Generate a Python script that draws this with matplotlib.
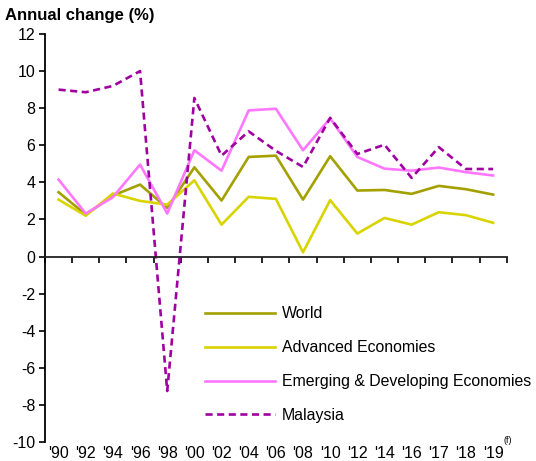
import matplotlib
matplotlib.use("Agg")
import matplotlib.pyplot as plt
import matplotlib.transforms as mtransforms

plt.rcParams['font.family'] = ['Liberation Sans', 'DejaVu Sans']

years = ["'90", "'92", "'94", "'96", "'98", "'00", "'02", "'04", "'06", "'08",
         "'10", "'12", "'14", "'16", "'17", "'18", "'19"]
world = [3.47, 2.26, 3.29, 3.88, 2.62, 4.81, 3.02, 5.37, 5.44, 3.07,
         5.41, 3.56, 3.59, 3.38, 3.81, 3.63, 3.34]
advanced = [3.07, 2.2, 3.4, 3.0, 2.8, 4.11, 1.72, 3.22, 3.11, 0.23,
            3.04, 1.24, 2.08, 1.72, 2.39, 2.23, 1.82]
emerging = [4.15, 2.32, 3.2, 4.96, 2.32, 5.73, 4.63, 7.88, 7.97, 5.73,
            7.45, 5.37, 4.74, 4.63, 4.8, 4.55, 4.37]
malaysia = [9.0, 8.86, 9.2, 10.0, -7.25, 8.55, 5.44, 6.75, 5.7, 4.83,
            7.48, 5.53, 6.03, 4.24, 5.9, 4.72, 4.72]
yticks = list(range(-10, 13, 2))

fig = plt.figure(figsize=(5.36, 4.61), dpi=100)
ax = fig.add_axes([45/536, 1-442/461, (506.7-45)/536, (442-34)/461])

x = list(range(len(years)))
lw = 1.9
ax.plot(x, world, color='#A3A000', lw=lw, label='World')
ax.plot(x, advanced, color='#D8D400', lw=lw, label='Advanced Economies')
ax.plot(x, emerging, color='#FF77FF', lw=lw, label='Emerging & Developing Economies')
ax.plot(x, malaysia, color='#A000A0', lw=lw, linestyle=(0, (2.7, 1.7)), label='Malaysia')

ax.set_xlim(-0.5, len(years) - 0.5)
ax.set_ylim(-10, 12)
ax.set_yticks(yticks)
ax.set_yticklabels([str(v) for v in yticks], fontsize=11.5)

for s in ['top', 'right']:
    ax.spines[s].set_visible(False)
ax.spines['left'].set_linewidth(1.3)
ax.spines['bottom'].set_position(('data', 0))
ax.spines['bottom'].set_linewidth(1.3)
ax.spines['bottom'].set_color('#222222')
ax.tick_params(axis='y', direction='out', length=4, width=1.2, pad=3, colors='black')

ax.set_xticks([i - 0.5 for i in range(len(years) + 1)])
ax.set_xticklabels([])
ax.tick_params(axis='x', direction='out', length=4, width=1.2)

trans = mtransforms.blended_transform_factory(ax.transData, ax.transAxes)
for i, lab in enumerate(years):
    ax.text(i, -0.028, lab, transform=trans, ha='center', va='center', fontsize=11.5)
ax.text(len(years) - 0.45, 0.003, '(f)', transform=trans, ha='center', va='center', fontsize=6.5)

fig.text(5/536, 1-15.5/461, 'Annual change (%)', fontsize=12, fontweight='bold', ha='left', va='center')

leg = ax.legend(loc='upper left', bbox_to_anchor=(205/536, 1-306.5/461),
                bbox_transform=fig.transFigure, frameon=False, fontsize=11.4,
                handlelength=4.4, handletextpad=0.45, labelspacing=1.19,
                borderpad=0, borderaxespad=0)

fig.savefig('out.png', dpi=100)
